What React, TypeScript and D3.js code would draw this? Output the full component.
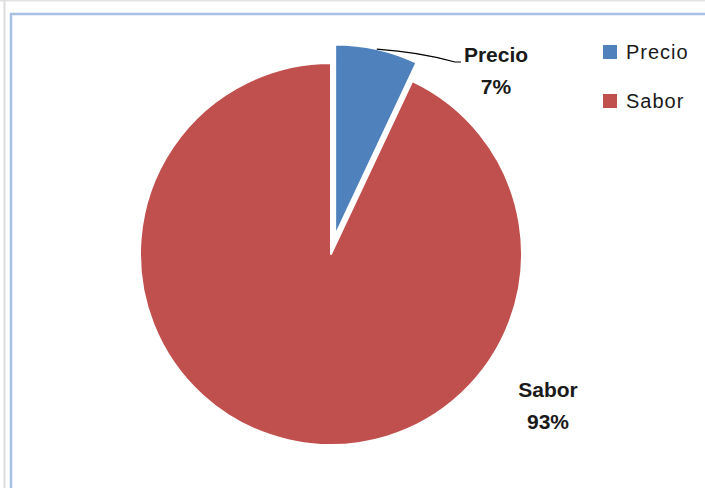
import React, { useEffect, useRef } from 'react';
import * as d3 from 'd3';

const categories = ['Precio', 'Sabor'];
const values = [7, 93];
const colors = ['#4F81BD', '#C0504D'];

const App: React.FC = () => {
  const svgRef = useRef<SVGSVGElement>(null);

  useEffect(() => {
    if (svgRef.current == null) return;
    const width = 705;
    const height = 488;
    const cx = 331;
    const cy = 254;
    const radius = 191;
    const explode = 19;

    const svg = d3.select(svgRef.current)
      .attr('width', width)
      .attr('height', height);
    svg.selectAll('*').remove();

    // outer frame lines
    svg.append('rect').attr('width', width).attr('height', height).attr('fill', '#fff');
    svg.append('line').attr('x1', 0).attr('x2', width).attr('y1', 0.5).attr('y2', 0.5)
      .attr('stroke', '#e3e3e3').attr('stroke-width', 2);
    svg.append('line').attr('x1', 4.5).attr('x2', 4.5).attr('y1', 0).attr('y2', height)
      .attr('stroke', '#dcdcdc').attr('stroke-width', 2);
    svg.append('rect')
      .attr('x', 11).attr('y', 14)
      .attr('width', 720).attr('height', 600)
      .attr('fill', 'none')
      .attr('stroke', '#a7c0e4')
      .attr('stroke-width', 2.5);

    const pie = d3.pie<number>().sort(null).value(d => d);
    const arcs = pie(values);
    const arc = d3.arc<d3.PieArcDatum<number>>().innerRadius(0).outerRadius(radius);

    const g = svg.append('g').attr('transform', `translate(${cx},${cy})`);

    arcs.forEach((a, i) => {
      const mid = (a.startAngle + a.endAngle) / 2;
      const off = i === 0 ? explode : 0;
      const dx = Math.sin(mid) * off;
      const dy = -Math.cos(mid) * off;
      g.append('path')
        .attr('d', arc(a) as string)
        .attr('transform', `translate(${dx},${dy})`)
        .attr('fill', colors[i])
        .attr('stroke', '#fff')
        .attr('stroke-width', 2)
        .attr('stroke-linejoin', 'round');
    });

    // leader line for Precio
    const p = arcs[0];
    const pMid = (p.startAngle + p.endAngle) / 2;
    const ex = Math.sin(pMid) * explode;
    const ey = -Math.cos(pMid) * explode;
    const sx = cx + ex + Math.sin(pMid) * radius;
    const sy = cy + ey - Math.cos(pMid) * radius;
    svg.append('path')
      .attr('d', `M${sx},${sy} Q${420},${52} ${455},${62} L${461},${62}`)
      .attr('fill', 'none')
      .attr('stroke', '#000')
      .attr('stroke-width', 1.2);

    const labelPos = [
      { x: 496, y: 62 },
      { x: 548, y: 397 }
    ];
    const total = d3.sum(values);
    arcs.forEach((a, i) => {
      const t = svg.append('text')
        .attr('x', labelPos[i].x)
        .attr('y', labelPos[i].y)
        .attr('text-anchor', 'middle')
        .style('font-family', '"Liberation Sans", Arial, sans-serif')
        .style('font-weight', 'bold')
        .style('font-size', '21px')
        .style('fill', '#1a1a1a');
      t.append('tspan').attr('x', labelPos[i].x).text(categories[i]);
      t.append('tspan').attr('x', labelPos[i].x).attr('dy', 32)
        .text(`${Math.round((values[i] / total) * 100)}%`);
    });

    // legend
    const legend = svg.append('g').attr('transform', 'translate(603,45)');
    categories.forEach((c, i) => {
      const row = legend.append('g').attr('transform', `translate(0,${i * 49})`);
      row.append('rect').attr('width', 14).attr('height', 14).attr('fill', colors[i]);
      row.append('text')
        .attr('x', 23)
        .attr('y', 14)
        .style('font-family', '"Liberation Sans", Arial, sans-serif')
        .style('font-size', '20px')
        .style('letter-spacing', '1px')
        .style('fill', '#1a1a1a')
        .text(c);
    });
  }, []);

  return <svg ref={svgRef} style={{ position: 'absolute', left: 0, top: 0 }}></svg>;
};

export default App;
